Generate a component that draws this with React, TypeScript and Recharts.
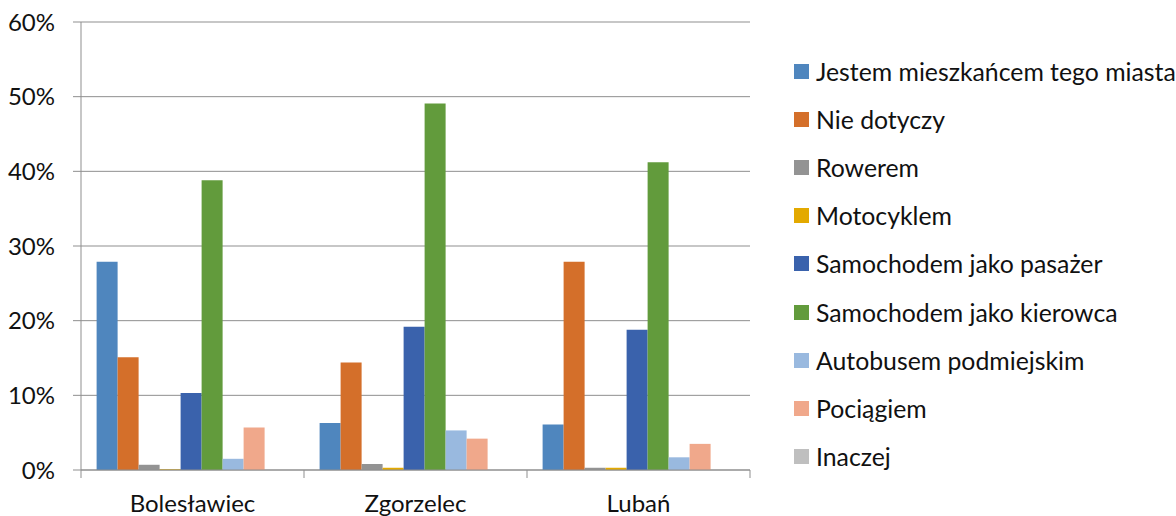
import { Bar, BarChart, CartesianGrid, XAxis, YAxis } from "recharts";

const cities = ["Bolesławiec", "Zgorzelec", "Lubań"];

const seriesNames = [
  "Jestem mieszkańcem tego miasta",
  "Nie dotyczy",
  "Rowerem",
  "Motocyklem",
  "Samochodem jako pasażer",
  "Samochodem jako kierowca",
  "Autobusem podmiejskim",
  "Pociągiem",
  "Inaczej",
];

const seriesColors = [
  "#4F86BE",
  "#D46F2A",
  "#939393",
  "#E3A900",
  "#3A62AC",
  "#629B3C",
  "#99B9DF",
  "#F0A88B",
  "#BFBFBF",
];

// percent per city, in the order of seriesNames
const boleslawiec = [27.9, 15.1, 0.7, 0.1, 10.3, 38.8, 1.5, 5.7, 0];
const zgorzelec = [6.3, 14.4, 0.8, 0.3, 19.2, 49.1, 5.3, 4.2, 0];
const luban = [6.1, 27.9, 0.3, 0.3, 18.8, 41.2, 1.7, 3.5, 0];

const yTicks = [0, 10, 20, 30, 40, 50, 60];

const cityValues = [boleslawiec, zgorzelec, luban];
const data = cities.map((name, i) => {
  const row: any = { name };
  seriesNames.forEach((s, j) => {
    row["s" + j] = cityValues[i][j];
  });
  return row;
});

const FONT = "Lato, 'Open Sans', sans-serif";
const GRID = "#8f8f8f";
const TICK_SIZE = 8;
const TICK_MARGIN = 17;

// category label plus Excel-style tick marks on the category boundaries
const CityTick = (props: any) => {
  const { x, y, payload, index, visibleTicksCount } = props;
  const half = payload.offset || 0;
  const axisY = y - TICK_SIZE - TICK_MARGIN;
  const edges = [x - half];
  if (index === visibleTicksCount - 1) edges.push(x + half);
  return (
    <g>
      {edges.map((ex) => (
        <line
          key={ex}
          x1={ex}
          x2={ex}
          y1={axisY}
          y2={axisY + TICK_SIZE}
          stroke={GRID}
        />
      ))}
      <text
        x={x}
        y={y}
        dy="0.71em"
        textAnchor="middle"
        fill="#111"
        fontSize={24}
        fontFamily={FONT}
      >
        {payload.value}
      </text>
    </g>
  );
};

const ChartLegend = () => (
  <div style={{ position: "absolute", left: 794, top: 47, fontFamily: FONT }}>
    {seriesNames.map((s, i) => (
      <div
        key={s}
        style={{ display: "flex", alignItems: "center", height: 48.2 }}
      >
        <span
          style={{
            width: 15,
            height: 15,
            background: seriesColors[i],
            marginRight: 7,
            flexShrink: 0,
          }}
        />
        <span style={{ fontSize: 24.8, color: "#111", whiteSpace: "nowrap" }}>
          {s}
        </span>
      </div>
    ))}
  </div>
);

const App = () => {
  return (
    <div style={{ position: "relative", width: 1176, height: 516 }}>
      <style>{`body{margin:0;background:#fff}`}</style>
      <BarChart
        width={1176}
        height={516}
        data={data}
        margin={{ top: 22, right: 426, left: 0, bottom: 0 }}
        barCategoryGap="7%"
        barGap={0}
      >
        <CartesianGrid vertical={false} stroke={GRID} />
        <XAxis
          dataKey="name"
          height={46}
          tickLine={false}
          tickSize={TICK_SIZE}
          tickMargin={TICK_MARGIN}
          axisLine={{ stroke: GRID }}
          tick={<CityTick />}
        />
        <YAxis
          width={81}
          domain={[0, 60]}
          ticks={yTicks}
          tickFormatter={(v) => `${v}%`}
          tickSize={TICK_SIZE}
          tickMargin={18}
          axisLine={{ stroke: GRID }}
          tickLine={{ stroke: GRID }}
          tick={{ fill: "#111", fontSize: 24, fontFamily: FONT }}
        />
        {seriesNames.map((s, i) => (
          <Bar
            key={s}
            dataKey={"s" + i}
            name={s}
            fill={seriesColors[i]}
            isAnimationActive={false}
          />
        ))}
      </BarChart>
      <ChartLegend />
    </div>
  );
};

export default App;
